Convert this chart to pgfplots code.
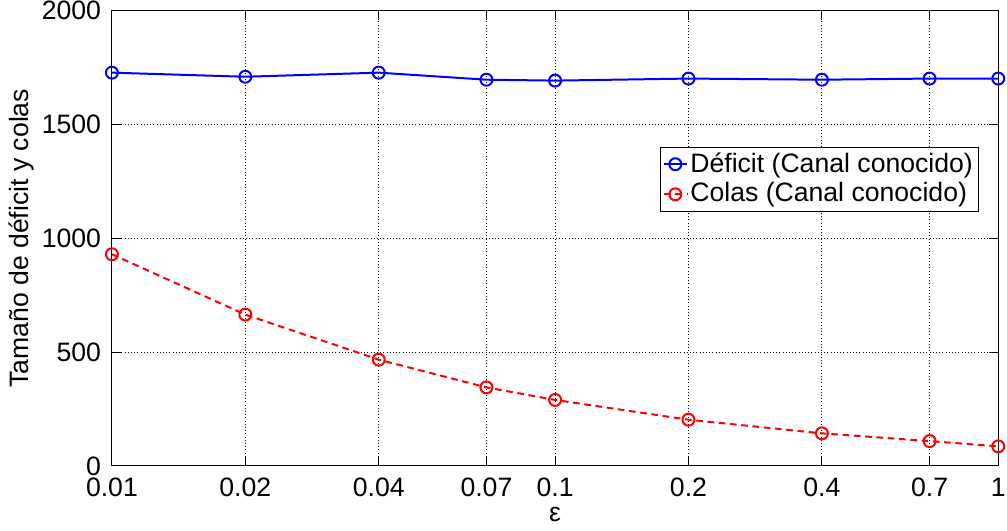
\documentclass[border=0pt]{standalone}
\usepackage{pgfplots}
\pgfplotsset{compat=1.18}
\usepackage{fontspec}
\setmainfont{Liberation Sans}

\begin{document}
\begin{tikzpicture}
\fontsize{20}{23}\selectfont
\begin{axis}[
    scale only axis,
    width=666pt, height=342pt,
    xmode=log,
    xmin=0.01, xmax=1,
    ymin=0, ymax=2000,
    xtick={0.01,0.02,0.04,0.07,0.1,0.2,0.4,0.7,1},
    xticklabels={0.01,0.02,0.04,0.07,0.1,0.2,0.4,0.7,1},
    ytick={0,500,1000,1500,2000},
    minor xtick={},
    log ticks with fixed point,
    /pgf/number format/assume math mode=true,
    /pgf/number format/1000 sep={},
    tick align=inside,
    major tick length=7pt,
    xmajorgrids, ymajorgrids,
    grid style={black, dotted, line width=0.8pt},
    axis line style={black, line width=0.8pt},
    tick style={black, line width=0.8pt},
    xlabel={ε},
    ylabel={Tamaño de déficit y colas},
    xlabel style={yshift=0pt},
    ylabel style={yshift=-2pt},
    ticklabel style={font=\fontsize{20}{23}\selectfont, inner sep=1pt},
    xticklabel style={yshift=-8pt},
    yticklabel style={xshift=-7pt},
    label style={font=\fontsize{20}{23}\selectfont},
    legend style={font=\fontsize{20}{23}\selectfont, at={(0.978,0.7016)}, anchor=north east,
        draw=black, line width=0.8pt, inner sep=2pt, row sep=1pt},
    legend cell align=left,
]
\addplot[blue, line width=1.5pt, mark=o, mark size=4.5pt, mark options={solid}]
coordinates {
(0.01,1728) (0.02,1710) (0.04,1728) (0.07,1697) (0.1,1693)
(0.2,1702) (0.4,1697) (0.7,1702) (1,1702)
};
\addlegendentry{Déficit (Canal conocido)}
\addplot[red, line width=1.5pt, dash pattern=on 5pt off 3.5pt, mark=o, mark size=4.5pt, mark options={solid}]
coordinates {
(0.01,930) (0.02,665) (0.04,467) (0.07,345) (0.1,290)
(0.2,203) (0.4,143) (0.7,109) (1,86)
};
\addlegendentry{Colas (Canal conocido)}
\end{axis}
\end{tikzpicture}
\end{document}
